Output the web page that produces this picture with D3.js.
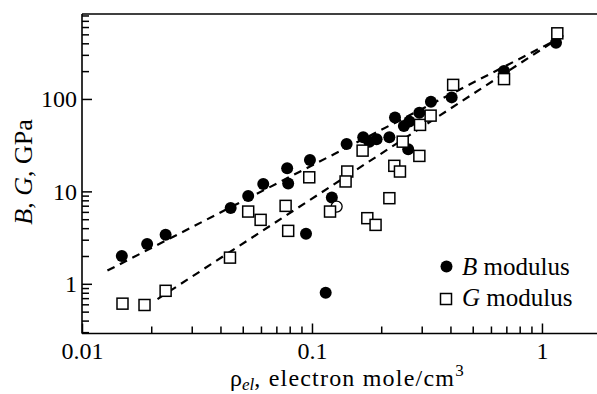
<!DOCTYPE html>
<html>
<head>
<meta charset="utf-8">
<script src="https://cdn.jsdelivr.net/npm/d3@7"></script>
<style>
  html, body { margin: 0; padding: 0; background: #fff; }
  svg { display: block; font-family: 'Liberation Serif', 'Times New Roman', serif; }
</style>
</head>
<body>
<svg id="chart" width="597" height="394"></svg>
<script>
// Bulk modulus B: electron density (mol/cm^3) and modulus (GPa)
const bDensity = [0.0149, 0.0192, 0.0231, 0.0443, 0.0528, 0.0614, 0.0780, 0.0788, 0.0980, 0.0942,
                  0.1147, 0.122, 0.1415, 0.167, 0.1775, 0.191, 0.217, 0.2296, 0.251, 0.265,
                  0.262, 0.293, 0.329, 0.405, 0.684, 1.151];
const bModulus = [2.0, 2.7, 3.4, 6.6, 8.9, 12.0, 17.8, 12.2, 21.9, 3.47,
                  0.80, 8.6, 32.6, 38.5, 34.5, 36.7, 38.5, 63, 51, 57,
                  28.6, 71, 93, 104, 201, 406];
// one bulk-modulus point shown as an open ring
const bRingDensity = [0.128];
const bRingModulus = [6.85];

// Shear modulus G
const gDensity = [0.0150, 0.0187, 0.0231, 0.0440, 0.0528, 0.0598, 0.0768, 0.0788, 0.0973, 0.1198,
                  0.1424, 0.140, 0.166, 0.174, 0.189, 0.217, 0.228, 0.2413, 0.248, 0.293,
                  0.295, 0.328, 0.411, 0.684, 1.166];
const gModulus = [0.61, 0.59, 0.84, 1.92, 6.05, 4.92, 6.97, 3.74, 14.2, 6.05,
                  16.4, 12.8, 27.6, 5.13, 4.34, 8.44, 18.9, 16.4, 34.5, 24.2,
                  52.4, 66, 142, 164, 513];

// Power-law fit lines (end points)
const bFitDensity = [0.0129, 1.27];
const bFitModulus = [1.39, 492];
const gFitDensity = [0.0213, 1.27];
const gFitModulus = [0.684, 510];

// Axis ticks
const xMajorTicks = [0.01, 0.1, 1];
const xMinorTicks = [0.02, 0.03, 0.04, 0.05, 0.06, 0.07, 0.08, 0.09,
                     0.2, 0.3, 0.4, 0.5, 0.6, 0.7, 0.8, 0.9];
const xTickLabels = ["0.01", "0.1", "1"];
const yMajorTicks = [1, 10, 100];
const yMinorTicks = [0.3, 0.4, 0.5, 0.6, 0.7, 0.8, 0.9,
                     2, 3, 4, 5, 6, 7, 8, 9,
                     200, 300, 400, 500, 600, 700, 800];
const yTickLabels = ["1", "10", "100"];

const legendLabels = ["B", "G"];

const FONT = "'Liberation Serif', 'Times New Roman', serif";
const svg = d3.select("#chart");
const plotL = 82, plotR = 597, plotT = 14, plotB = 333.5;

const x = d3.scaleLog().domain([0.01, 1.735]).range([plotL, plotR]);
const y = d3.scaleLog().domain([0.29, 830]).range([plotB, plotT]);

// fit lines
const line = d3.line().x(d => x(d[0])).y(d => y(d[1]));
[[bFitDensity, bFitModulus], [gFitDensity, gFitModulus]].forEach(([xs, ys]) => {
  svg.append("path")
    .datum(xs.map((v, i) => [v, ys[i]]))
    .attr("d", line)
    .attr("fill", "none")
    .attr("stroke", "#000")
    .attr("stroke-width", 2.2)
    .attr("stroke-dasharray", "8,6");
});

// B points
svg.append("g").selectAll("circle")
  .data(bDensity.map((v, i) => [v, bModulus[i]]))
  .join("circle")
  .attr("cx", d => x(d[0]))
  .attr("cy", d => y(d[1]))
  .attr("r", 6)
  .attr("fill", "#000");

svg.append("g").selectAll("circle")
  .data(bRingDensity.map((v, i) => [v, bRingModulus[i]]))
  .join("circle")
  .attr("cx", d => x(d[0]))
  .attr("cy", d => y(d[1]))
  .attr("r", 5.5)
  .attr("fill", "#fff")
  .attr("stroke", "#000")
  .attr("stroke-width", 1.3);

// G points
const sq = 11;
svg.append("g").selectAll("rect")
  .data(gDensity.map((v, i) => [v, gModulus[i]]))
  .join("rect")
  .attr("x", d => x(d[0]) - sq / 2)
  .attr("y", d => y(d[1]) - sq / 2)
  .attr("width", sq)
  .attr("height", sq)
  .attr("fill", "#fff")
  .attr("stroke", "#000")
  .attr("stroke-width", 1.5);

// axes
function styleAxis(g) {
  g.select(".domain").remove();
  g.selectAll("line").attr("stroke", "#000").attr("stroke-width", 1.5);
  g.selectAll("text").attr("fill", "#000").attr("font-size", 24).style("font-family", FONT);
}

svg.append("g").attr("transform", `translate(0,${plotB})`)
  .call(d3.axisBottom(x).tickValues(xMinorTicks).tickSize(-7).tickFormat(""))
  .call(styleAxis);
svg.append("g").attr("transform", `translate(0,${plotB})`)
  .call(d3.axisBottom(x).tickValues(xMajorTicks).tickSize(-10).tickPadding(8)
    .tickFormat((d, i) => xTickLabels[i]))
  .call(styleAxis);

svg.append("g").attr("transform", `translate(${plotL},0)`)
  .call(d3.axisLeft(y).tickValues(yMinorTicks).tickSize(-7).tickFormat(""))
  .call(styleAxis);
svg.append("g").attr("transform", `translate(${plotL},0)`)
  .call(d3.axisLeft(y).tickValues(yMajorTicks).tickSize(-10).tickPadding(5)
    .tickFormat((d, i) => yTickLabels[i]))
  .call(styleAxis);

// frame (open on the right)
const frame = svg.append("g").attr("stroke", "#000").attr("stroke-width", 1.6);
frame.append("line").attr("x1", plotL).attr("x2", plotL).attr("y1", plotT).attr("y2", plotB);
frame.append("line").attr("x1", plotL).attr("x2", plotR).attr("y1", plotT).attr("y2", plotT);
frame.append("line").attr("x1", plotL).attr("x2", plotR).attr("y1", plotB).attr("y2", plotB);

// axis titles
const xt = svg.append("text")
  .attr("x", 230).attr("y", 386)
  .attr("font-size", 24).attr("fill", "#000").style("font-family", FONT);
xt.append("tspan").text("ρ");
xt.append("tspan").attr("font-style", "italic").attr("font-size", 17).attr("dy", 4).text("el");
xt.append("tspan").attr("dy", -4).attr("letter-spacing", 1.2).text(", electron mole/cm");
xt.append("tspan").attr("font-size", 17).attr("dy", -10).text("3");

const yt = svg.append("text")
  .attr("transform", "translate(32,172) rotate(-90)")
  .attr("text-anchor", "middle")
  .attr("font-size", 26).attr("fill", "#000").style("font-family", FONT);
yt.append("tspan").attr("font-style", "italic").text("B");
yt.append("tspan").text(", ");
yt.append("tspan").attr("font-style", "italic").text("G");
yt.append("tspan").text(", GPa");

// legend
const lg = svg.append("g");
lg.append("circle").attr("cx", 446.5).attr("cy", 266.5).attr("r", 6).attr("fill", "#000");
lg.append("rect").attr("x", 446 - sq / 2).attr("y", 299 - sq / 2)
  .attr("width", sq).attr("height", sq)
  .attr("fill", "#fff").attr("stroke", "#000").attr("stroke-width", 1.5);
legendLabels.forEach((lab, i) => {
  const t = lg.append("text").attr("x", 462).attr("y", 275 + i * 31)
    .attr("font-size", 25).attr("fill", "#000").style("font-family", FONT);
  t.append("tspan").attr("font-style", "italic").text(lab);
  t.append("tspan").text(" modulus");
});
</script>
</body>
</html>
